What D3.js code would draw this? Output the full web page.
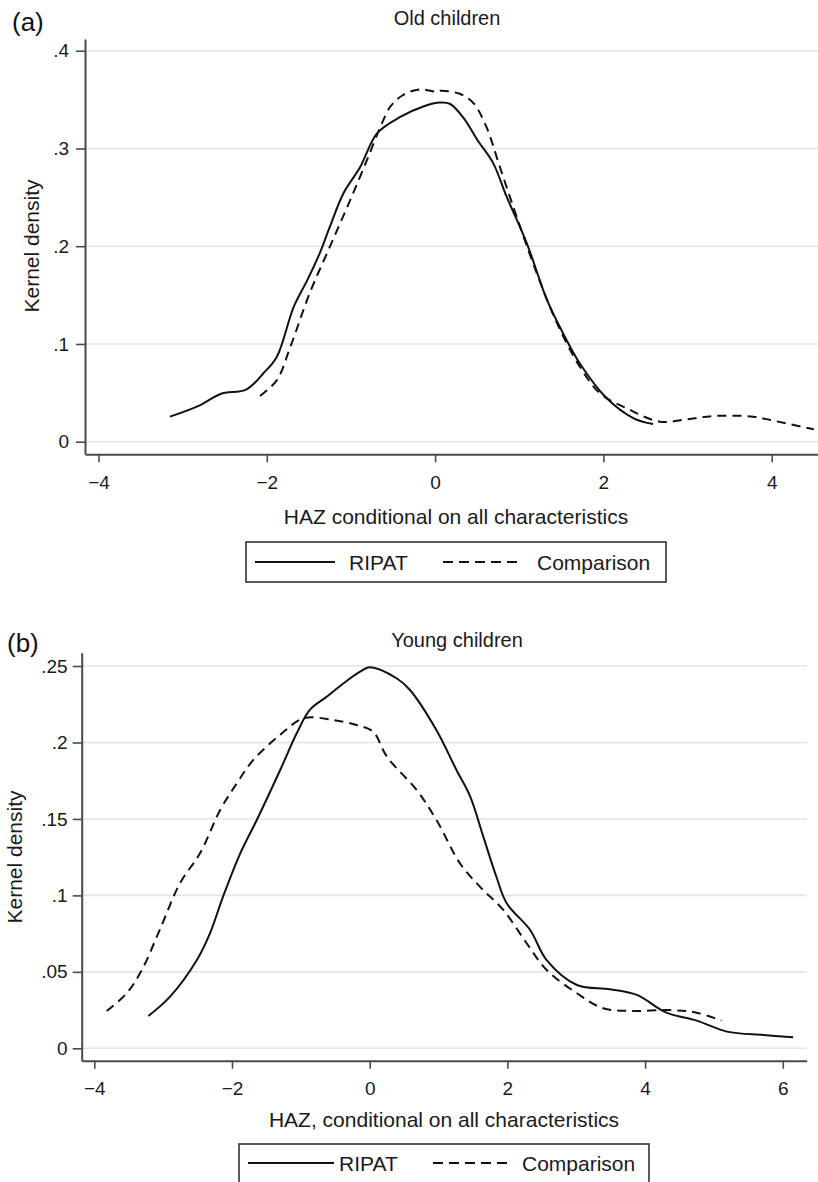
<!DOCTYPE html>
<html>
<head>
<meta charset="utf-8">
<script src="https://cdn.jsdelivr.net/npm/d3@7"></script>
<style>
  html, body { margin: 0; padding: 0; background: #fff; }
  svg { display: block; font-family: "Liberation Sans", Arial, Helvetica, sans-serif; }
</style>
</head>
<body>
<svg id="chart" width="818" height="1182"></svg>
<script>
// ---------- DATA ----------
const xTicksOld = [-4, -2, 0, 2, 4];
const yTicksOld = [0, 0.1, 0.2, 0.3, 0.4];
const xTicksYoung = [-4, -2, 0, 2, 4, 6];
const yTicksYoung = [0, 0.05, 0.1, 0.15, 0.2, 0.25];
const seriesNames = ["RIPAT", "Comparison"];

// Panel (a): Old children  [HAZ, density]
const oldRipat = [
  [-3.15,0.0256],[-2.79,0.0375],[-2.55,0.0488],[-2.24,0.0536],[-2.04,0.070],[-1.88,0.087],
  [-1.68,0.138],[-1.52,0.165],[-1.37,0.193],[-1.25,0.220],[-1.09,0.254],[-0.89,0.281],
  [-0.69,0.3155],[-0.42,0.332],[-0.14,0.343],[0.06,0.347],[0.18,0.3455],[0.34,0.331],
  [0.50,0.309],[0.69,0.285],[0.85,0.2507],[1.09,0.203],[1.33,0.145],[1.52,0.111],
  [1.72,0.080],[2.04,0.0444],[2.36,0.0239],[2.59,0.018]
];
const oldComparison = [
  [-2.08,0.0468],[-1.88,0.063],[-1.72,0.097],[-1.49,0.152],[-1.25,0.1995],[-1.01,0.247],
  [-0.81,0.288],[-0.65,0.322],[-0.53,0.343],[-0.38,0.3547],[-0.18,0.3605],[0.02,0.358],
  [0.06,0.359],[0.30,0.3557],[0.46,0.346],[0.61,0.322],[0.77,0.281],[0.97,0.230],
  [1.21,0.172],[1.45,0.121],[1.72,0.0767],[1.96,0.0495],[2.28,0.034],[2.67,0.0205],
  [2.99,0.0229],[3.31,0.0263],[3.78,0.0256],[4.02,0.0215],[4.50,0.0127]
];

// Panel (b): Young children  [HAZ, density]
const youngRipat = [
  [-3.215,0.0211],[-2.90,0.0338],[-2.51,0.0578],[-2.32,0.0752],[-2.13,0.0992],[-1.88,0.1275],
  [-1.64,0.1493],[-1.30,0.182],[-1.06,0.206],[-0.87,0.2213],[-0.62,0.230],[-0.38,0.2387],
  [-0.14,0.2463],[0.00,0.2492],[0.39,0.242],[0.585,0.2343],[0.97,0.208],[1.26,0.182],
  [1.46,0.1646],[1.65,0.1384],[1.84,0.1122],[1.99,0.0948],[2.33,0.0774],[2.57,0.0577],
  [3.01,0.0414],[3.49,0.0386],[3.88,0.0349],[4.31,0.0233],[4.75,0.0181],[5.19,0.0109],
  [5.72,0.0087],[6.15,0.0072]
];
const youngComparison = [
  [-3.82,0.0244],[-3.53,0.036],[-3.31,0.0512],[-3.05,0.0774],[-2.755,0.108],[-2.465,0.1275],
  [-2.17,0.156],[-1.93,0.1733],[-1.69,0.1886],[-1.30,0.205],[-0.96,0.2158],[-0.53,0.2147],
  [-0.19,0.2114],[0.05,0.207],[0.25,0.1907],[0.68,0.169],[0.97,0.1493],[1.31,0.121],
  [1.60,0.1057],[1.94,0.0905],[2.28,0.0687],[2.57,0.0512],[3.01,0.036],[3.39,0.0262],
  [3.83,0.0244],[4.36,0.025],[4.75,0.0233],[5.11,0.0181]
];

// ---------- DRAW ----------
const svg = d3.select("#chart");
const minus = d => (d < 0 ? "\u2212" + Math.abs(d) : String(d));
const dotFmt = d => (d === 0 ? "0" : String(d).replace(/^0/, ""));

function panel(cfg) {
  const g = svg.append("g");
  const x = d3.scaleLinear().domain(cfg.xDomain).range(cfg.xRange);
  const y = d3.scaleLinear().domain(cfg.yDomain).range(cfg.yRange);
  const left = cfg.xRange[0], right = cfg.xRange[1];

  // clip
  const clipId = "clip" + cfg.id;
  svg.append("clipPath").attr("id", clipId).append("rect")
    .attr("x", left).attr("y", cfg.yRange[1])
    .attr("width", right - left).attr("height", cfg.yRange[0] - cfg.yRange[1]);

  // gridlines
  g.append("g").selectAll("line").data(cfg.yTicks).join("line")
    .attr("x1", left).attr("x2", right)
    .attr("y1", d => y(d)).attr("y2", d => y(d))
    .attr("stroke", "#e4e4e4").attr("stroke-width", 1.6);

  // axes
  const xAxis = d3.axisBottom(x).tickValues(cfg.xTicks).tickSize(8).tickSizeOuter(0)
    .tickPadding(cfg.xPad).tickFormat(minus);
  const gx = g.append("g").attr("transform", `translate(0,${cfg.yRange[0]})`).call(xAxis);
  const yAxis = d3.axisLeft(y).tickValues(cfg.yTicks).tickSize(9).tickSizeOuter(0)
    .tickPadding(cfg.yPad).tickFormat(dotFmt);
  const gy = g.append("g").attr("transform", `translate(${left},0)`).call(yAxis);
  [gx, gy].forEach(a => {
    a.select(".domain").attr("stroke", "#4a4a4a").attr("stroke-width", 2);
    a.selectAll(".tick line").attr("stroke", "#4a4a4a").attr("stroke-width", 1.6);
    a.selectAll(".tick text").attr("fill", "#1a1a1a").attr("font-size", 19)
      .attr("font-family", "'Liberation Sans', Arial, sans-serif");
  });

  // lines
  const line = d3.line().x(d => x(d[0])).y(d => y(d[1])).curve(d3.curveCatmullRom.alpha(0.5));
  const lg = g.append("g").attr("clip-path", `url(#${clipId})`);
  lg.append("path").datum(cfg.ripat).attr("d", line)
    .attr("fill", "none").attr("stroke", "#111").attr("stroke-width", 2);
  lg.append("path").datum(cfg.comp).attr("d", line)
    .attr("fill", "none").attr("stroke", "#111").attr("stroke-width", 2)
    .attr("stroke-dasharray", "9,6");

  // texts
  g.append("text").attr("x", cfg.titleX).attr("y", cfg.titleY).attr("text-anchor", "middle")
    .attr("font-size", 20).attr("fill", "#1a1a1a").text(cfg.title);
  g.append("text").attr("x", cfg.labX).attr("y", cfg.labY)
    .attr("font-size", 26).attr("fill", "#111").text(cfg.label);
  g.append("text").attr("transform", `translate(${cfg.ylabX},${cfg.ylabY}) rotate(-90)`)
    .attr("text-anchor", "middle").attr("font-size", 21).attr("fill", "#1a1a1a")
    .text("Kernel density");
  g.append("text").attr("x", cfg.xlabX).attr("y", cfg.xlabY).attr("text-anchor", "middle")
    .attr("font-size", 21).attr("fill", "#1a1a1a").text(cfg.xlab);

  // legend
  const L = cfg.legend;
  g.append("rect").attr("x", L.x).attr("y", L.y).attr("width", L.w).attr("height", L.h)
    .attr("fill", "#fff").attr("stroke", "#333").attr("stroke-width", 1.6);
  g.append("line").attr("x1", L.s1[0]).attr("x2", L.s1[1]).attr("y1", L.ly).attr("y2", L.ly)
    .attr("stroke", "#111").attr("stroke-width", 2);
  g.append("text").attr("x", L.t1).attr("y", L.ty).attr("font-size", 21).attr("fill", "#1a1a1a")
    .text(seriesNames[0]);
  g.append("line").attr("x1", L.s2[0]).attr("x2", L.s2[1]).attr("y1", L.ly).attr("y2", L.ly)
    .attr("stroke", "#111").attr("stroke-width", 2).attr("stroke-dasharray", "10,6");
  g.append("text").attr("x", L.t2).attr("y", L.ty).attr("font-size", 21).attr("fill", "#1a1a1a")
    .text(seriesNames[1]);
}

panel({
  id: "a", ripat: oldRipat, comp: oldComparison,
  xDomain: [-4.16, 4.55], xRange: [85, 818],
  yDomain: [-0.0129, 0.412], yRange: [454.3, 39],
  xTicks: xTicksOld, yTicks: yTicksOld, xPad: 13, yPad: 7,
  title: "Old children", titleX: 447, titleY: 25,
  label: "(a)", labX: 12, labY: 31,
  ylabX: 39, ylabY: 246,
  xlab: "HAZ conditional on all characteristics", xlabX: 456, xlabY: 524,
  legend: { x: 246, y: 542, w: 420, h: 40, ly: 562, ty: 569.5,
            s1: [255, 335], t1: 349, s2: [443, 523], t2: 537 }
});

panel({
  id: "b", ripat: youngRipat, comp: youngComparison,
  xDomain: [-4.183, 6.347], xRange: [81.7, 806.7],
  yDomain: [-0.0081, 0.2587], yRange: [1060.7, 652.7],
  xTicks: xTicksYoung, yTicks: yTicksYoung, xPad: 12.5, yPad: 5,
  title: "Young children", titleX: 457, titleY: 647,
  label: "(b)", labX: 7, labY: 652,
  ylabX: 22, ylabY: 857,
  xlab: "HAZ, conditional on all characteristics", xlabX: 444, xlabY: 1127,
  legend: { x: 239, y: 1144, w: 410, h: 44, ly: 1163, ty: 1171,
            s1: [248, 334], t1: 339, s2: [433, 509], t2: 522 }
});
</script>
</body>
</html>
